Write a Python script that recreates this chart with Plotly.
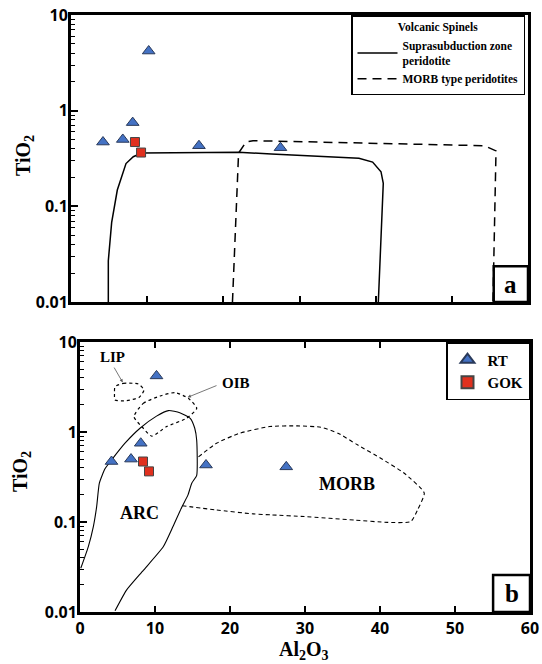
import math
import plotly.graph_objects as go

# ---- data ----
RT_AL2O3 = [4.2, 6.8, 8.1, 10.2, 16.8, 27.5]
RT_TIO2 = [0.47, 0.50, 0.75, 4.2, 0.43, 0.41]
GOK_AL2O3 = [8.4, 9.2]
GOK_TIO2 = [0.47, 0.365]

SSZ_X = [4.9, 4.9, 5.34, 6.08, 7.22, 8.18, 9.28, 22.0, 26.3, 37.8, 39.6, 40.7, 41.0, 40.35]
SSZ_Y = [0.01, 0.027, 0.068, 0.148, 0.28, 0.33, 0.36, 0.367, 0.353, 0.318, 0.29, 0.23, 0.174, 0.01]
MORBP_X = [21.2, 22.0, 22.97, 23.9, 54.3, 55.8, 55.4]
MORBP_Y = [0.01, 0.36, 0.47, 0.486, 0.43, 0.38, 0.01]

ARC_X = [0.1, 1.1, 1.78, 2.22, 2.58, 3.33, 4.22, 6.0, 8.0, 10.2, 11.8, 13.3, 14.7, 15.3,
         15.56, 15.56, 14.9, 14.4, 13.6, 12.4, 11.1, 8.44, 6.2, 4.67]
ARC_Y = [0.0306, 0.053, 0.089, 0.148, 0.27, 0.39, 0.49, 0.75, 1.1, 1.5, 1.73, 1.64, 1.42, 1.1,
         0.81, 0.33, 0.27, 0.2, 0.148, 0.089, 0.053, 0.029, 0.0175, 0.0103]
MORB_X = [15.8, 18.2, 21.3, 25.3, 29.0, 32.1, 34.4, 37.0, 40.1, 43.2, 45.9, 45.0, 44.1,
          41.0, 36.6, 29.9, 25.5, 23.1, 18.2, 13.56]
MORB_Y = [0.53, 0.75, 0.97, 1.15, 1.17, 1.13, 0.97, 0.72, 0.51, 0.35, 0.21, 0.136, 0.101,
          0.099, 0.105, 0.115, 0.12, 0.123, 0.136, 0.152]
OIB_X = [7.2, 8.44, 10.67, 12.67, 14.44, 15.56, 14.2, 11.56, 9.56, 8.44, 7.2]
OIB_Y = [1.48, 2.08, 2.51, 2.74, 2.37, 1.83, 1.42, 1.15, 0.90, 1.1, 1.48]
LIP_X = [4.67, 5.78, 7.78, 8.53, 7.9, 6.2, 4.67, 4.6, 4.67]
LIP_Y = [3.19, 3.47, 3.41, 2.93, 2.43, 2.23, 2.27, 2.7, 3.19]

Y_TICKS = [0.01, 0.1, 1, 10]
Y_TICKTEXT = ["0.01", "0.1", "1", "10"]
X_TICKS = [0, 10, 20, 30, 40, 50, 60]

W, H = 542, 664
SERIF = "Liberation Serif"
SANS = "Open Sans"
TRI_COLOR = "#4472C4"
SQ_COLOR = "#E0301E"

fig = go.Figure()

# ---- top panel (a) ----
fig.add_trace(go.Scatter(x=SSZ_X, y=SSZ_Y, mode="lines", xaxis="x", yaxis="y",
                         line=dict(color="black", width=1.5),
                         name="Suprasubduction zone<br>peridotite", legend="legend2"))
fig.add_trace(go.Scatter(x=MORBP_X, y=MORBP_Y, mode="lines", xaxis="x", yaxis="y",
                         line=dict(color="black", width=1.5, dash="9px,6px"),
                         name="MORB type peridotites", legend="legend2"))
fig.add_trace(go.Scatter(x=RT_AL2O3, y=RT_TIO2, mode="markers", xaxis="x", yaxis="y",
                         marker=dict(symbol="triangle-up", size=11, color=TRI_COLOR,
                                     line=dict(color="#2a3a5a", width=1)),
                         showlegend=False))
fig.add_trace(go.Scatter(x=GOK_AL2O3, y=GOK_TIO2, mode="markers", xaxis="x", yaxis="y",
                         marker=dict(symbol="square", size=9, color=SQ_COLOR,
                                     line=dict(color="#444444", width=1)),
                         showlegend=False))

# ---- bottom panel (b) ----
fig.add_trace(go.Scatter(x=ARC_X, y=ARC_Y, mode="lines", xaxis="x2", yaxis="y2",
                         line=dict(color="black", width=1.1, shape="spline", smoothing=0.5),
                         showlegend=False))
fig.add_trace(go.Scatter(x=MORB_X, y=MORB_Y, mode="lines", xaxis="x2", yaxis="y2",
                         line=dict(color="black", width=1.1, dash="4px,3px", shape="spline", smoothing=0.5),
                         showlegend=False))
fig.add_trace(go.Scatter(x=OIB_X, y=OIB_Y, mode="lines", xaxis="x2", yaxis="y2",
                         line=dict(color="black", width=1.2, dash="dot", shape="spline", smoothing=0.6),
                         showlegend=False))
fig.add_trace(go.Scatter(x=LIP_X, y=LIP_Y, mode="lines", xaxis="x2", yaxis="y2",
                         line=dict(color="black", width=1.2, dash="dot", shape="spline", smoothing=0.6),
                         showlegend=False))
fig.add_trace(go.Scatter(x=RT_AL2O3, y=RT_TIO2, mode="markers", xaxis="x2", yaxis="y2",
                         marker=dict(symbol="triangle-up", size=11, color=TRI_COLOR,
                                     line=dict(color="#2a3a5a", width=1)),
                         name="RT", legend="legend"))
fig.add_trace(go.Scatter(x=GOK_AL2O3, y=GOK_TIO2, mode="markers", xaxis="x2", yaxis="y2",
                         marker=dict(symbol="square", size=9, color=SQ_COLOR,
                                     line=dict(color="#444444", width=1)),
                         name="GOK", legend="legend"))

def px_x(p):
    return p / W

def px_y(p):
    return 1 - p / H

common_y = dict(type="log", range=[-2, 1], tickvals=Y_TICKS, ticktext=Y_TICKTEXT,
                ticks="inside", ticklen=7, tickwidth=1.5, tickcolor="black",
                minor=dict(ticks="inside", ticklen=4, tickwidth=1, tickcolor="black", dtick="D1", showgrid=False),
                showline=True, linewidth=3, linecolor="black", mirror=True,
                showgrid=False, zeroline=False, automargin=False, ticklabelstandoff=-3,
                tickfont=dict(family=SANS, size=16, color="black", weight="bold"))
common_x = dict(range=[0, 60], ticks="inside", ticklen=6, tickwidth=1.5, tickcolor="black",
                showline=True, linewidth=3, linecolor="black", showgrid=False, zeroline=False,
                tickvals=X_TICKS, automargin=False,
                tickfont=dict(family=SANS, size=16, color="black", weight="bold"))

fig.update_layout(
    width=W, height=H,
    margin=dict(l=0, r=0, t=0, b=0, autoexpand=False),
    paper_bgcolor="white", plot_bgcolor="white",
    xaxis=dict(common_x, domain=[px_x(71), px_x(528)], anchor="y", showticklabels=False, mirror=True),
    yaxis=dict(common_y, domain=[px_y(302), px_y(15)], anchor="x"),
    xaxis2=dict(common_x, domain=[px_x(80), px_x(530)], anchor="y2", mirror="allticks"),
    yaxis2=dict(common_y, domain=[px_y(612), px_y(342)], anchor="x2"),
    legend=dict(x=px_x(530), y=px_y(342), xanchor="right", yanchor="top",
                bgcolor="white", bordercolor="black", borderwidth=1.5,
                font=dict(family=SERIF, size=15, color="black", weight="bold"),
                itemsizing="constant", tracegroupgap=0, itemwidth=30),
    legend2=dict(x=px_x(351), y=px_y(15), xanchor="left", yanchor="top",
                 bgcolor="white", bordercolor="black", borderwidth=1.5,
                 font=dict(family=SERIF, size=11.5, color="black", weight="bold"),
                 title=dict(text="Volcanic Spinels", side="top center",
                            font=dict(family=SERIF, size=11.5, color="black", weight="bold")),
                 tracegroupgap=0, itemwidth=40),
    showlegend=True,
)

# panel label boxes
fig.add_shape(type="rect", xref="x domain", yref="y domain", x0=0.925, x1=1, y0=0, y1=0.125,
              fillcolor="white", line=dict(color="black", width=2.5), layer="above")
fig.add_shape(type="rect", xref="x2 domain", yref="y2 domain", x0=0.918, x1=1, y0=0, y1=0.137,
              fillcolor="white", line=dict(color="black", width=2.5), layer="above")

ann = []
lbl_font = dict(family=SERIF, size=25, color="black", weight="bold")
ann.append(dict(xref="x domain", yref="y domain", x=0.9625, y=0.06, text="a", showarrow=False,
                font=lbl_font, xanchor="center", yanchor="middle"))
ann.append(dict(xref="x2 domain", yref="y2 domain", x=0.959, y=0.068, text="b", showarrow=False,
                font=lbl_font, xanchor="center", yanchor="middle"))
# axis titles
title_font = dict(family=SERIF, size=20, color="black", weight="bold")
ann.append(dict(xref="paper", yref="paper", x=px_x(24), y=px_y(156), text="TiO<sub>2</sub>",
                textangle=-90, showarrow=False, xanchor="center", yanchor="middle", font=title_font))
ann.append(dict(xref="paper", yref="paper", x=px_x(21), y=px_y(472), text="TiO<sub>2</sub>",
                textangle=-90, showarrow=False, xanchor="center", yanchor="middle", font=title_font))
ann.append(dict(xref="paper", yref="paper", x=px_x(304), y=px_y(650), text="Al<sub>2</sub>O<sub>3</sub>",
                showarrow=False, xanchor="center", yanchor="middle", font=title_font))
# field labels
lab_font = dict(family=SERIF, size=15, color="black", weight="bold")
big_font = dict(family=SERIF, size=18, color="black", weight="bold")
ann.append(dict(xref="x2", yref="y2", x=7.9, y=math.log10(0.127), text="ARC", showarrow=False, font=big_font))
ann.append(dict(xref="x2", yref="y2", x=35.6, y=math.log10(0.264), text="MORB", showarrow=False, font=big_font))
ann.append(dict(xref="x2", yref="y2", x=4.3, y=math.log10(6.8), text="LIP", showarrow=False, font=lab_font))
ann.append(dict(xref="x2", yref="y2", x=20.8, y=math.log10(3.47), text="OIB", showarrow=False, font=lab_font))
# arrows
ann.append(dict(xref="x2", yref="y2", axref="x2", ayref="y2",
                x=5.69, y=math.log10(3.56), ax=4.44, ay=math.log10(5.4), text="",
                showarrow=True, arrowhead=2, arrowsize=0.8, arrowwidth=0.8, arrowcolor="#555555"))
ann.append(dict(xref="x2", yref="y2", axref="x2", ayref="y2",
                x=14.36, y=math.log10(2.43), ax=18.4, ay=math.log10(3.33), text="",
                showarrow=True, arrowhead=2, arrowsize=0.8, arrowwidth=0.8, arrowcolor="#555555"))
fig.update_layout(annotations=ann)

fig.write_html("out.html", config={"displayModeBar": False},
               post_script="document.body.style.margin='0';")
